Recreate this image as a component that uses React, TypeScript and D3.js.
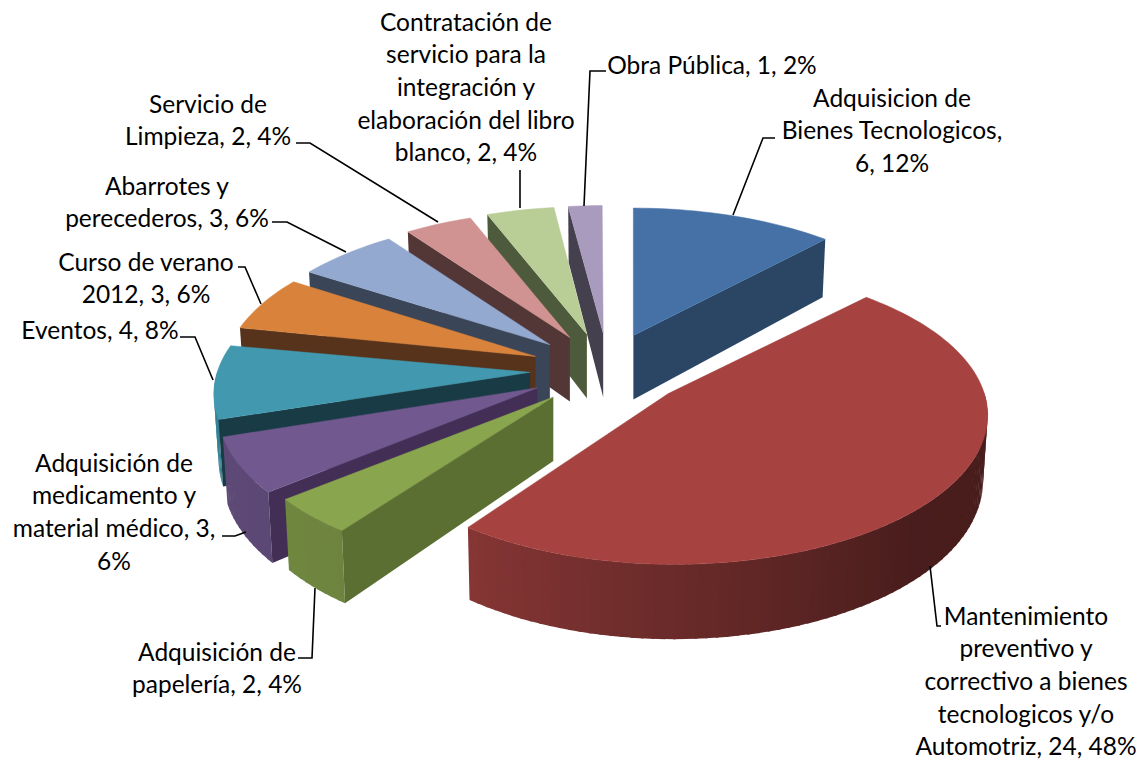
import React from "react";
import * as d3 from "d3";

const W = 1144;
const H = 762;

// data, clockwise from 12 o'clock
const categories = [
  "Adquisicion de Bienes Tecnologicos",
  "Mantenimiento preventivo y correctivo a bienes tecnologicos y/o Automotriz",
  "Adquisición de papelería",
  "Adquisición de medicamento y material médico",
  "Eventos",
  "Curso de verano 2012",
  "Abarrotes y perecederos",
  "Servicio de Limpieza",
  "Contratación de servicio para la integración y elaboración del libro blanco",
  "Obra Pública",
];
const counts = [6, 24, 2, 3, 4, 3, 3, 2, 2, 1];
const topColors = ["#4571a7", "#a64341", "#89a54e", "#71588f", "#4198af", "#d9823b", "#93a9cf", "#d19392", "#b9cd96", "#a99bbd"];
const faceColors = ["#2b4565", "#5e2624", "#5b6f33", "#432f56", "#193b46", "#57331b", "#3a4558", "#533737", "#4e5a3c", "#45404e"];

const labelLines = [
  ["Adquisicion de", "Bienes Tecnologicos,", "6, 12%"],
  ["Mantenimiento", "preventivo y", "correctivo a bienes", "tecnologicos y/o", "Automotriz, 24, 48%"],
  ["Adquisición de", "papelería, 2, 4%"],
  ["Adquisición de", "medicamento y", "material médico, 3,", "6%"],
  ["Eventos, 4, 8%"],
  ["Curso de verano", "2012, 3, 6%"],
  ["Abarrotes y", "perecederos, 3, 6%"],
  ["Servicio de", "Limpieza, 2, 4%"],
  ["Contratación de", "servicio para la", "integración y", "elaboración del libro", "blanco, 2, 4%"],
  ["Obra Pública, 1, 2%"],
];
const labelCenterX = [892, 1026, 217, 114, 100, 146, 167, 208, 466, 712];
const labelFirstY = [97, 615, 651, 462, 329, 261, 185, 103, 21, 64];
const leaders: [number, number][][] = [
  [[775, 138], [763, 138], [733, 215]],
  [[941, 626], [937, 626], [930, 566]],
  [[298, 658], [312, 658], [315, 588]],
  [[222, 536], [235, 536], [246, 532]],
  [[180, 337], [195, 337], [213, 380]],
  [[238, 267], [245, 267], [261, 304]],
  [[272, 222], [287, 222], [346, 252]],
  [[296, 143], [310, 143], [438, 222]],
  [[520, 170], [520, 208]],
  [[606, 71], [590, 71], [584, 206]],
];

// projection settings
const cx = 605, cy = 370;
const explodeX = 77, explodeY = 37;
const Rx = 310, Ry = 146;
const persp = 0.145;
const depth = 64;
const lean = 0.012;
// small per-wedge corrections for the reference's off-axis perspective
const rimShiftX = [0, 10, -4, -6, -1, 3, 3, 3, 2, 2];
const rimShiftY = [0, 0, 0, 2, 0, -2, 0, 0, 0, 0];
const apexShiftX = [0, 4, 1, 0, 2, 2, 1, 2, 1, 3];

const pieGen = d3.pie<number>().sort(null).value((d) => d).startAngle(0).endAngle(2 * Math.PI);
const arcs = pieGen(counts);

const wallShade = d3.scaleLinear<number>()
  .domain([0.7, 2.4, 3.77, 4.9])
  .range([0.42, 0.44, 0.8, 0.86])
  .clamp(true);

type P = [number, number];
const poly = (pts: P[]) => d3.line()(pts) + "Z";

function wedgeGeom(a: d3.PieArcDatum<number>) {
  const mid = (a.startAngle + a.endAngle) / 2;
  const ax = cx + explodeX * Math.sin(mid);
  const ay = cy - explodeY * Math.cos(mid);
  const rim = (t: number): P => {
    const s = 1 / (1 + persp * Math.cos(t));
    return [
      ax + rimShiftX[a.index] + Rx * Math.sin(t) * s,
      ay + rimShiftY[a.index] - Ry * Math.cos(t) * s,
    ];
  };
  const low = (p: P, t: number): P => {
    const s = 1 / (1 + persp * Math.cos(t));
    return [p[0] + (cx - p[0]) * lean, p[1] + depth * s];
  };
  return { ax: ax + apexShiftX[a.index], ay, rim, low };
}

function Wedge({ a }: { a: d3.PieArcDatum<number> }) {
  const { ax, ay, rim, low } = wedgeGeom(a);
  const i = a.index;
  const n = Math.max(2, Math.ceil((a.endAngle - a.startAngle) / 0.03));
  const dt = (a.endAngle - a.startAngle) / n;
  const ts = d3.range(n).map((k) => a.startAngle + dt * k);
  const apex: P = [ax, ay];
  const apexLow: P = [ax, ay + depth];
  const base = d3.rgb(topColors[i]);
  const faces: React.ReactNode[] = [];
  const radial = (t: number, key: string) => {
    const r = rim(t);
    const l = low(r, t);
    faces.push(<path key={key} d={poly([apex, r, l, apexLow])} fill={faceColors[i]} />);
  };
  if (Math.sin(a.startAngle) < -1e-6) radial(a.startAngle, "s");
  if (Math.sin(a.endAngle) > 1e-6) radial(a.endAngle, "e");
  const walls = ts.map((t, k) => {
    const mid = t + dt / 2;
    if (Math.cos(mid) > 0.02) return null;
    const shade = wallShade(mid);
    const c = d3.rgb(base.r * shade, base.g * shade, base.b * shade).formatHex();
    // a little overlap with the previous band hides anti-aliased seams
    const from = k === 0 ? t : t - dt * 0.25;
    const p1 = rim(from);
    const p2 = rim(t + dt);
    return <path key={k} d={poly([p1, p2, low(p2, t + dt), low(p1, from)])} fill={c} />;
  });
  const top = [apex, ...d3.range(n + 1).map((k) => rim(a.startAngle + dt * k))];
  return (
    <g>
      {walls}
      {faces}
      <path d={poly(top)} fill={topColors[i]} stroke={topColors[i]} strokeWidth={0.5} />
    </g>
  );
}

const FONT_SIZE = 24.5;
const LINE_H = 32.7;

export default function App() {
  const order = arcs.slice().sort((p, q) => d3.ascending(wedgeGeom(p).ay, wedgeGeom(q).ay));
  const leaderLine = d3.line();
  return (
    <svg
      width={W}
      height={H}
      viewBox={`0 0 ${W} ${H}`}
      style={{ position: "absolute", left: 0, top: 0, background: "#fff" }}
    >
      <g>
        {order.map((a) => (
          <Wedge key={a.index} a={a} />
        ))}
      </g>
      <g fill="none" stroke="#000" strokeWidth={1.6}>
        {leaders.map((l, i) => (
          <path key={i} d={leaderLine(l)!} />
        ))}
      </g>
      <g fontFamily="Lato, 'Open Sans', sans-serif" fontSize={FONT_SIZE} fill="#000" textAnchor="middle">
        {labelLines.map((lines, i) =>
          lines.map((t, j) => (
            <text key={categories[i] + j} x={labelCenterX[i]} y={labelFirstY[i] + j * LINE_H} dominantBaseline="central">
              {t}
            </text>
          ))
        )}
      </g>
    </svg>
  );
}
